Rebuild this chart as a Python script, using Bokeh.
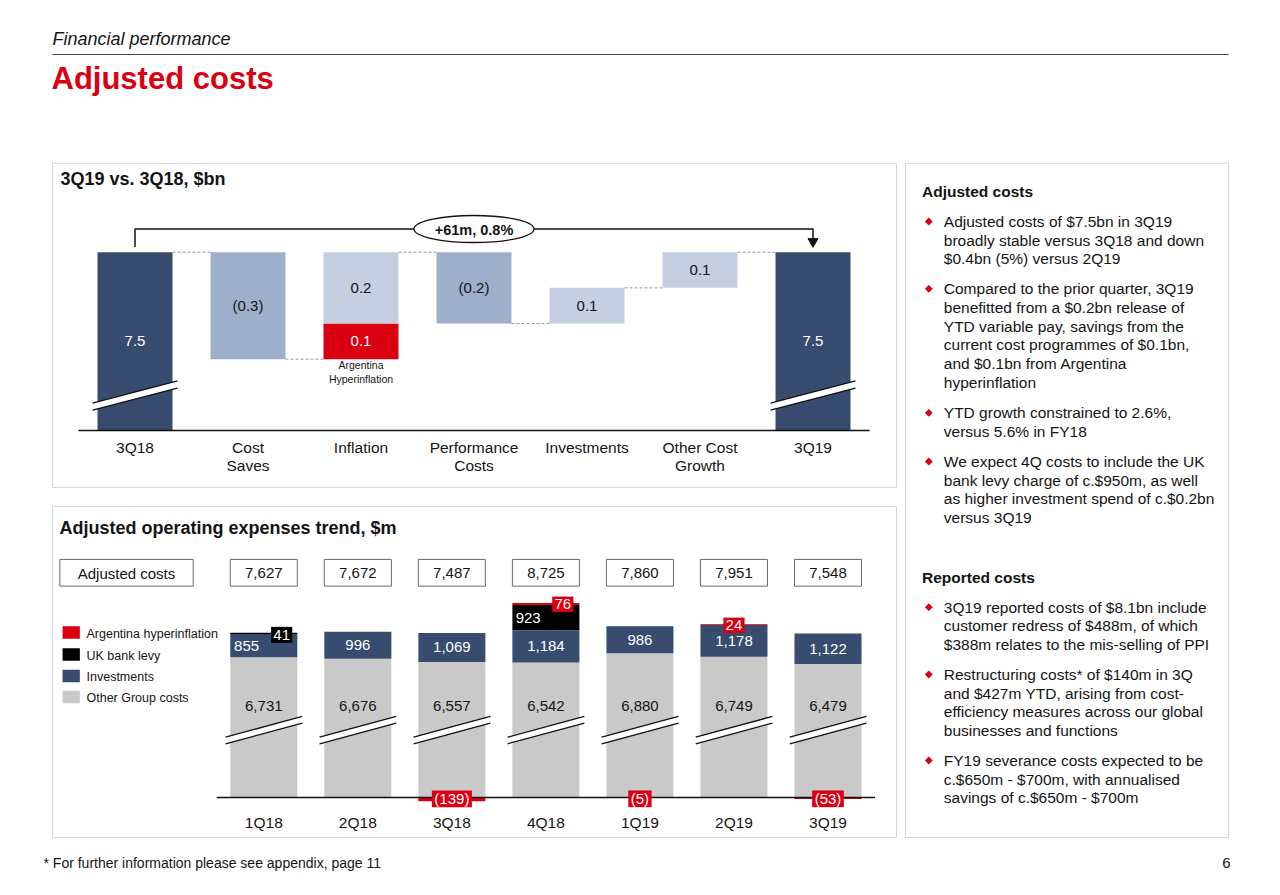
from bokeh.plotting import figure
from bokeh.models import Range1d
from bokeh.embed import file_html
from bokeh.resources import INLINE
from bokeh.core.properties import value
import math

# ---------------- data ----------------
wf_categories = ["3Q18", "Cost\nSaves", "Inflation", "Performance\nCosts", "Investments", "Other Cost\nGrowth", "3Q19"]
wf_segment_category = [0, 1, 2, 2, 3, 4, 5, 6]
wf_segment_value = [7.5, -0.3, 0.1, 0.2, -0.2, 0.1, 0.1, 7.5]
wf_segment_kind = ["total", "change", "argentina", "change", "change", "change", "change", "total"]
wf_bracket_label = "+61m, 0.8%"

quarters = ["1Q18", "2Q18", "3Q18", "4Q18", "1Q19", "2Q19", "3Q19"]
adjusted_costs = [7627, 7672, 7487, 8725, 7860, 7951, 7548]
other_group_costs = [6731, 6676, 6557, 6542, 6880, 6749, 6479]
investments = [855, 996, 1069, 1184, 986, 1178, 1122]
uk_bank_levy = [41, 0, 0, 923, 0, 0, 0]
argentina_hyperinflation = [0, 0, -139, 76, -5, 24, -53]

legend_labels = ["Argentina hyperinflation", "UK bank levy", "Investments", "Other Group costs"]

notes = [
    ("Adjusted costs", [
        ["Adjusted costs of $7.5bn in 3Q19", "broadly stable versus 3Q18 and down", "$0.4bn (5%) versus 2Q19"],
        ["Compared to the prior quarter, 3Q19", "benefitted from a $0.2bn release of", "YTD variable pay, savings from the",
         "current cost programmes of $0.1bn,", "and $0.1bn from Argentina", "hyperinflation"],
        ["YTD growth constrained to 2.6%,", "versus 5.6% in FY18"],
        ["We expect 4Q costs to include the UK", "bank levy charge of c.$950m, as well",
         "as higher investment spend of c.$0.2bn", "versus 3Q19"],
    ]),
    ("Reported costs", [
        ["3Q19 reported costs of $8.1bn include", "customer redress of $488m, of which",
         "$388m relates to the mis-selling of PPI"],
        ["Restructuring costs* of $140m in 3Q", "and $427m YTD, arising from cost-",
         "efficiency measures across our global", "businesses and functions"],
        ["FY19 severance costs expected to be", "c.$650m - $700m, with annualised",
         "savings of c.$650m - $700m"],
    ]),
]

# ---------------- style ----------------
FONT = "Liberation Sans"
INK = "#141414"
RED = "#DB0011"
NAVY = "#374C6E"
MID = "#9DAFCB"
LIGHT = "#C4CFE2"
GRAY = "#C9C9C9"
PANEL = "#D6D6D6"
BOX = "#6A6A6A"

W, H = 1280, 895
p = figure(width=W, height=H, x_range=Range1d(0, W), y_range=Range1d(H, 0),
           output_backend="svg", toolbar_location=None, min_border=0,
           x_axis_location=None, y_axis_location=None)
p.grid.visible = False
p.outline_line_color = None
p.background_fill_color = "white"
p.border_fill_color = "white"


def T(api, x, y, s, size, color=INK, style="normal", align="left", baseline="middle", font=FONT):
    api.text(x=[x], y=[y], text=[s], text_font=value(font), text_font_size=value(f"{size}px"),
             text_font_style=value(style), text_color=color, text_align=align, text_baseline=baseline)


# ---------------- header / footer ----------------
T(p, 52, 38.5, "Financial performance", 18, style="italic")
p.line([52, 1228], [54, 54], line_color="#404040", line_width=1)
T(p, 51, 77.5, "Adjusted costs", 31, color=RED, style="bold")
T(p, 43, 862.5, "* For further information please see appendix, page 11", 14)
T(p, 1230, 862.5, "6", 15, align="right")

# panels
p.quad(left=[52, 52, 905], right=[896, 896, 1228], top=[163, 506, 163], bottom=[487, 837, 837],
       fill_color=None, line_color=PANEL, line_width=1)

# ---------------- waterfall ----------------
WF_FLOOR, WF_TOP = 7.0, 7.5
wf = p.subplot(x_source=Range1d(0, 6), y_source=Range1d(WF_FLOOR, WF_TOP),
               x_target=Range1d(134.5, 812.5), y_target=Range1d(430, 251.7))
wfx = p.subplot(x_source=Range1d(0, 6), y_source=Range1d(0, H),
                x_target=Range1d(134.5, 812.5), y_target=Range1d(0, H))
WF_W = 75 / 113

T(p, 60, 178.5, "3Q19 vs. 3Q18, $bn", 18, style="bold")

level = 0.0
xs, bots, tops, cols, labs, labcols, mids = [], [], [], [], [], [], []
end_level = {}
for c, v, k in zip(wf_segment_category, wf_segment_value, wf_segment_kind):
    if k == "total":
        b, t = 0.0, v
        level = v
    else:
        b, t = min(level, level + v), max(level, level + v)
        level = level + v
    end_level[c] = level
    bd = max(b, WF_FLOOR)
    xs.append(c); bots.append(bd); tops.append(t); mids.append((bd + t) / 2)
    if k == "total":
        cols.append(NAVY); labcols.append("white"); labs.append(f"{v:.1f}")
    elif k == "argentina":
        cols.append(RED); labcols.append("white"); labs.append(f"{v:.1f}")
    else:
        cols.append(MID if v < 0 else LIGHT); labcols.append(INK)
        labs.append(f"({abs(v):.1f})" if v < 0 else f"{v:.1f}")

wf.vbar(x=xs, width=WF_W, bottom=bots, top=tops, fill_color=cols, line_color=None)
wf.text(x=xs, y=mids, text=labs, text_color=labcols, text_font=value(FONT),
        text_font_size=value("15px"), text_align="center", text_baseline="middle")

# dashed connectors
cx, cy = [], []
for c in range(len(wf_categories) - 1):
    cx.append([c + WF_W / 2, c + 1 - WF_W / 2])
    cy.append([end_level[c], end_level[c]])
wf.multi_line(cx, cy, line_color="#9A9A9A", line_width=1, line_dash="3 2")

# axis breaks on totals
for c, k in zip(wf_segment_category, wf_segment_kind):
    if k != "total":
        continue
    xl, xr = c - 0.376, c + 0.376
    yl, yr, hh = 7.067, 7.129, 0.0099
    wf.patch([xl, xr, xr, xl], [yl + hh, yr + hh, yr - hh, yl - hh], fill_color="white", line_color=None)
    wf.multi_line([[xl, xr], [xl, xr]], [[yl + hh, yr + hh], [yl - hh, yr - hh]],
                  line_color="#111111", line_width=1.3)

# baseline
wfx.line([-0.5, 6.5], [430, 430], line_color="#111111", line_width=1.5)

# category labels
for i, cat in enumerate(wf_categories):
    for j, line in enumerate(cat.split("\n")):
        T(wfx, i, 446.5 + j * 18.5, line, 15.5, align="center")

# Argentina annotation
T(wfx, 2, 364.5, "Argentina", 10.5, align="center")
T(wfx, 2, 378.5, "Hyperinflation", 10.5, align="center")

# bracket
wfx.line([0, 0, 2.47], [246.5, 228.5, 228.5], line_color="#111111", line_width=1.5)
wfx.line([3.53, 6, 6], [228.5, 228.5, 239], line_color="#111111", line_width=1.5)
wfx.scatter([6], [241], marker="inverted_triangle", size=10, fill_color="#111111", line_color="#111111")
wfx.ellipse(x=[3], y=[228.5], width=120, height=27, width_units="screen", height_units="screen",
            fill_color="white", line_color="#111111", line_width=1.3)
T(wfx, 3, 229, wf_bracket_label, 14.5, style="bold", align="center")

# ---------------- stacked trend ----------------
SB_FLOOR, SB_TOP = 1575, 8725
sb = p.subplot(x_source=Range1d(0, 6), y_source=Range1d(SB_FLOOR, SB_TOP),
               x_target=Range1d(263.3, 827.5), y_target=Range1d(797, 602.5))
sbx = p.subplot(x_source=Range1d(0, 6), y_source=Range1d(0, H),
                x_target=Range1d(263.3, 827.5), y_target=Range1d(0, H))
SB_W = 67 / 94
M_PER_PX = (SB_TOP - SB_FLOOR) / (797 - 602.5)

T(p, 59, 527, "Adjusted operating expenses trend, $m", 18, style="bold")

idx = list(range(len(quarters)))
g_top = other_group_costs
i_top = [g + v for g, v in zip(g_top, investments)]
l_top = [a + v for a, v in zip(i_top, uk_bank_levy)]
a_pos = [max(v, 0) for v in argentina_hyperinflation]
a_top = [a + v for a, v in zip(l_top, a_pos)]

sb.vbar(x=idx, width=SB_W, bottom=SB_FLOOR, top=g_top, fill_color=GRAY, line_color=None)
sb.vbar(x=idx, width=SB_W, bottom=g_top, top=i_top, fill_color=NAVY, line_color=None)
sb.vbar(x=idx, width=SB_W, bottom=i_top, top=l_top, fill_color="black", line_color=None)
sb.vbar(x=idx, width=SB_W, bottom=l_top, top=a_top, fill_color=RED, line_color=None)
neg_x = [i for i, v in zip(idx, argentina_hyperinflation) if v < 0]
neg_v = [v for v in argentina_hyperinflation if v < 0]
sb.vbar(x=neg_x, width=SB_W, top=SB_FLOOR, bottom=[SB_FLOOR + v for v in neg_v], fill_color=RED, line_color=None)

# axis breaks
for i in idx:
    xl, xr = i - 0.407, i + 0.409
    yl, yr, hh = 3671, 4432, 122
    sb.patch([xl, xr, xr, xl], [yl + hh, yr + hh, yr - hh, yl - hh], fill_color="white", line_color=None)
    sb.multi_line([[xl, xr], [xl, xr]], [[yl + hh, yr + hh], [yl - hh, yr - hh]],
                  line_color="#111111", line_width=1.3)

sbx.line([-0.5, 6.5], [797, 797], line_color="#111111", line_width=1.5)

# gray labels
GRAY_LABEL_Y = SB_FLOOR + (797 - 705.5) * M_PER_PX
sb.text(x=idx, y=[GRAY_LABEL_Y] * len(idx), text=[f"{v:,}" for v in other_group_costs], text_color=INK,
        text_font=value(FONT), text_font_size=value("15px"), text_align="center", text_baseline="middle")

LEFT_ALIGNED = {"1Q18"}
for i, q in enumerate(quarters):
    ymid = (g_top[i] + i_top[i]) / 2
    if q in LEFT_ALIGNED:
        T(sb, i - SB_W / 2 + 0.04, ymid, f"{investments[i]:,}", 15, color="white")
    else:
        T(sb, i, ymid, f"{investments[i]:,}", 15, color="white", align="center")


def tw(s):
    w = 0.0
    for ch in s:
        w += 5.0 if ch in "()" else (4.2 if ch == "," else 8.34)
    return w


BOX_DX = {"1Q18": 0.19, "4Q18": 0.18}
for i, q in enumerate(quarters):
    v = uk_bank_levy[i]
    if v >= 300:
        T(sb, i - SB_W / 2 + 0.035, (i_top[i] + l_top[i]) / 2, f"{v:,}", 15, color="white")
    elif v > 0:
        dx = BOX_DX.get(q, 0)
        yc = l_top[i] - 2 * M_PER_PX
        sb.rect(x=[i + dx], y=[yc], width=tw(str(v)) + 4.5, height=16, width_units="screen",
                height_units="screen", fill_color="black", line_color=None)
        T(sb, i + dx, yc, str(v), 15, color="white", align="center")
    a = argentina_hyperinflation[i]
    if a > 0:
        dx = BOX_DX.get(q, 0)
        yc = a_top[i] - 1.3 * M_PER_PX
        sb.rect(x=[i + dx], y=[yc], width=tw(str(a)) + 4.5, height=15.5, width_units="screen",
                height_units="screen", fill_color=RED, line_color=None)
        T(sb, i + dx, yc, str(a), 15, color="white", align="center")
    elif a < 0:
        s = f"({abs(a)})"
        yc = SB_FLOOR - 1.3 * M_PER_PX
        sb.rect(x=[i], y=[yc], width=tw(s) + 5, height=16.7, width_units="screen",
                height_units="screen", fill_color=RED, line_color=None)
        T(sb, i, yc, s, 15, color="white", align="center")

# totals row
sbx.rect(x=idx, y=[572.3] * len(idx), width=SB_W, height=26.7, fill_color="white", line_color=BOX, line_width=1)
for i, v in enumerate(adjusted_costs):
    T(sbx, i, 572.8, f"{v:,}", 15, align="center")
p.rect(x=[126], y=[572.3], width=133.4, height=26.7, fill_color="white", line_color=BOX, line_width=1)
T(p, 126, 572.8, "Adjusted costs", 15, align="center")

# quarter labels
for i, q in enumerate(quarters):
    T(sbx, i, 822, q, 15.5, align="center")

# legend
leg_colors = [RED, "black", NAVY, GRAY]
leg_y = [632, 654, 675.5, 696.5]
p.rect(x=[70.7] * 4, y=leg_y, width=17.3, height=12.3, fill_color=leg_colors, line_color=None)
for lab, y in zip(legend_labels, leg_y):
    T(p, 86, y + 1, lab, 12.5)

# ---------------- notes ----------------
LH = 18.67
heads_y = [190.7, 576.7]
bullets_y = [[221, 288.3, 412.3, 461], [606.7, 674, 760]]
for (head, bl), hy, bys in zip(notes, heads_y, bullets_y):
    T(p, 921.5, hy, head, 15.5, style="bold")
    for lines, by in zip(bl, bys):
        p.scatter([928.3], [by], marker="square", size=5.5, angle=math.pi / 4,
                  fill_color=RED, line_color=None)
        for j, ln in enumerate(lines):
            T(p, 943.3, by + j * LH, ln, 15.5)

open("out.html", "w").write(file_html(p, INLINE))
